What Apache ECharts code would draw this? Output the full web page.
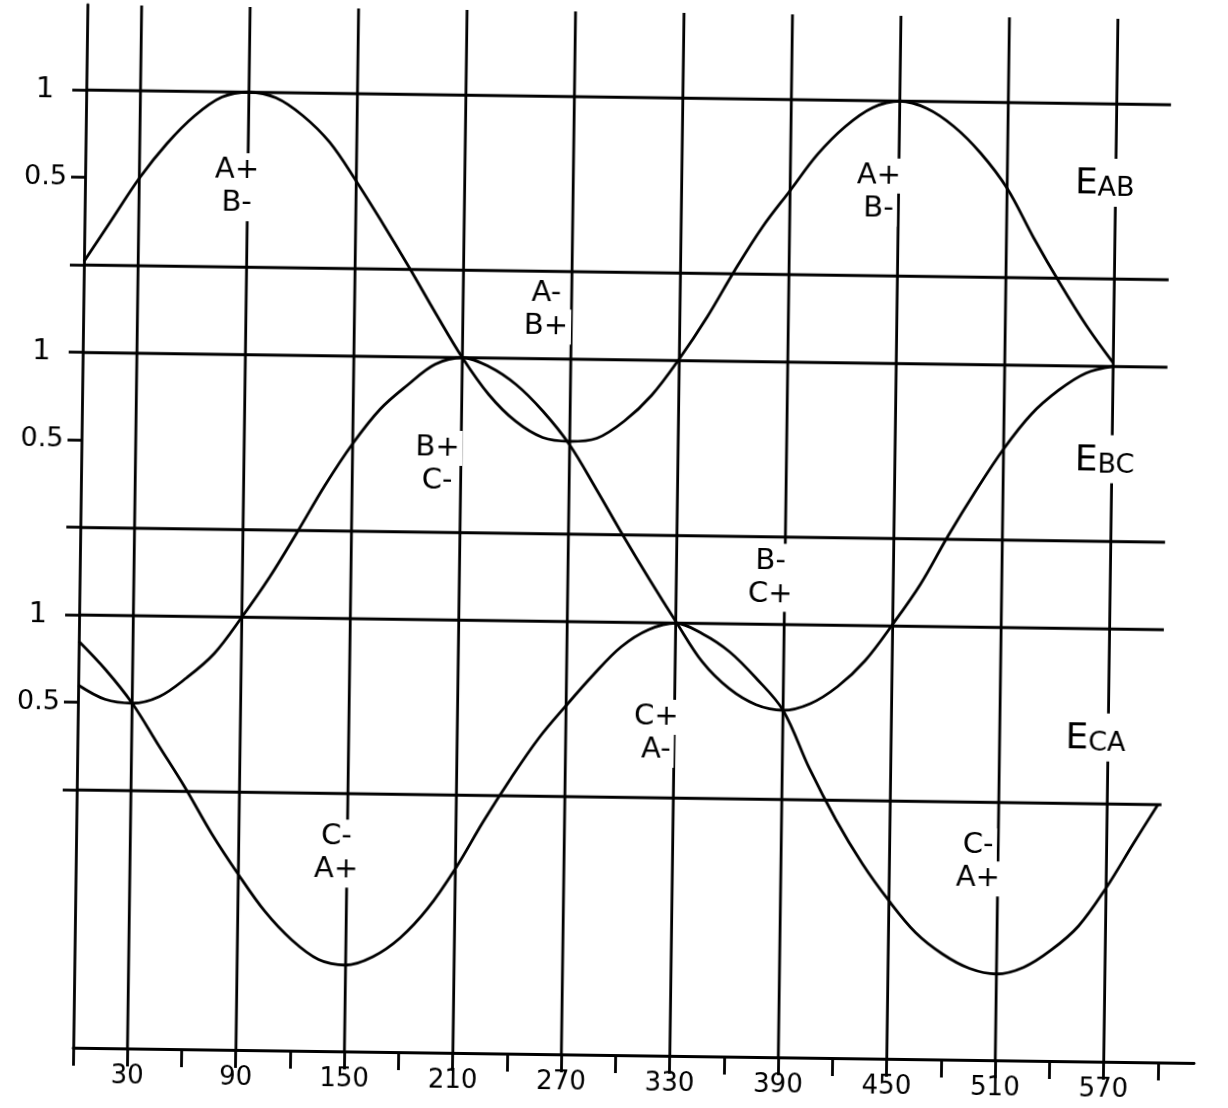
<!DOCTYPE html>
<html>
<head>
<meta charset="utf-8">
<title>EAB / EBC / ECA</title>
<script src="https://cdn.jsdelivr.net/npm/echarts@6/dist/echarts.min.js"></script>
<style>
  html, body { margin: 0; padding: 0; background: #fff; overflow: hidden; }
  /* the original sheet is scanned a little crooked */
  #chart { width: 1228px; height: 1108px; transform: rotate(0.78deg); }
</style>
</head>
<body>
<div id="chart"></div>
<script>
// electrical degrees, read every 15 deg off the sheet
const angles = [0, 15, 30, 45, 60, 75, 90, 105, 120, 135, 150, 165, 180, 195, 210, 225, 240, 255, 270,
  285, 300, 315, 330, 345, 360, 375, 390, 405, 420, 435, 450, 465, 480, 495, 510, 525, 540, 555, 570]
const ecaAngles = angles.concat([585, 598])

const eabValues = [0.02, 0.26, 0.5, 0.7, 0.86, 0.97, 1.0, 0.97, 0.87, 0.72, 0.5, 0.26, 0.01, -0.25, -0.5,
  -0.71, -0.86, -0.95, -0.97, -0.95, -0.85, -0.7, -0.49, -0.25, 0.02, 0.27, 0.48, 0.69, 0.85, 0.96, 1.0,
  0.96, 0.86, 0.71, 0.51, 0.23, -0.03, -0.27, -0.48]
const ebcValues = [-0.9, -0.98, -1.0, -0.96, -0.85, -0.71, -0.5, -0.27, -0.01, 0.26, 0.5, 0.7, 0.84, 0.96,
  1.0, 0.95, 0.85, 0.7, 0.51, 0.26, 0.0, -0.25, -0.49, -0.72, -0.87, -0.96, -0.99, -0.95, -0.85, -0.7,
  -0.49, -0.26, 0.02, 0.28, 0.52, 0.72, 0.86, 0.96, 1.0]
const ecaValues = [0.85, 0.69, 0.5, 0.26, 0.02, -0.24, -0.47, -0.68, -0.84, -0.95, -0.98, -0.93, -0.82,
  -0.65, -0.42, -0.15, 0.1, 0.33, 0.52, 0.7, 0.86, 0.96, 1.0, 0.94, 0.84, 0.69, 0.51, 0.18, -0.11, -0.36,
  -0.57, -0.75, -0.87, -0.95, -0.98, -0.94, -0.84, -0.7, -0.48, -0.22, 0.0]

// axis ticks / labels
const xTickValues = [0, 30, 60, 90, 120, 150, 180, 210, 240, 270, 300, 330, 360, 390, 420, 450, 480, 510, 540, 570, 600]
const xLabelValues = [30, 90, 150, 210, 270, 330, 390, 450, 510, 570]
const yTickValues = [1, 0.5, 0, -0.5, -1, -1.5, -2, -2.5, -3]
const yLabelValues = [1, 0.5, -0.5, -1, -2, -2.5]
const yLabelTexts = ['1', '0.5', '1', '0.5', '1', '0.5']

// three bands stacked on one axis, each with a 0 line and a 1 line
const bandOffsets = [0, -1.5, -3]
const bandLineEnd = 600

// hand written notes (two rows each)
const noteTop = ['A+', 'A-', 'A+', 'B+', 'B-', 'C+', 'C-', 'C-']
const noteBottom = ['B-', 'B+', 'B-', 'C-', 'C+', 'A-', 'A+', 'A+']
const noteAngles = [84, 256, 439, 197, 382, 320, 144, 499]
const noteValues = [0.46, -0.22, 0.48, -1.11, -1.73, -2.63, -3.34, -3.34]

const nameSubs = ['AB', 'BC', 'CA']
const nameAngles = [564, 566, 563]
const nameValues = [0.55, -1.03, -2.62]

const FONT = 'DejaVu Sans'
const INK = '#000'
const PEN = 2.8

const chart = echarts.init(document.getElementById('chart'))

function curve(xs, ys, off) {
  return {
    type: 'line',
    data: xs.map((x, i) => [x, ys[i] + off]),
    smooth: 0.35,
    showSymbol: false,
    lineStyle: { color: INK, width: PEN },
    z: 3
  }
}

function rule(points) {
  return {
    type: 'line',
    data: points,
    showSymbol: false,
    silent: true,
    lineStyle: { color: INK, width: PEN },
    z: 2
  }
}

const rulings = []
bandOffsets.forEach(off => {
  rulings.push(rule([[0, off + 1], [bandLineEnd, off + 1]]))
  rulings.push(rule([[0, off], [bandLineEnd, off]]))
})
// vertical rulings at the labelled angles, full height
xLabelValues.forEach(v => {
  rulings.push(rule([[v, -4.473], [v, 1.487]]))
})

// notes sit on their own layer; the white box hides the rulings behind them
// (scatter defaults to 0.8 opacity, so force it back to 1)
function noteRow(texts, dy) {
  return {
    type: 'scatter',
    symbolSize: 0,
    silent: true,
    zlevel: 1,
    itemStyle: { opacity: 1 },
    data: noteAngles.map((a, i) => [a, noteValues[i]]),
    label: {
      show: true,
      position: 'inside',
      offset: [0, dy],
      formatter: p => texts[p.dataIndex],
      color: INK,
      opacity: 1,
      fontFamily: FONT,
      fontSize: 29,
      backgroundColor: '#fff',
      padding: [3, 3]
    }
  }
}

const option = {
  animation: false,
  backgroundColor: '#fff',
  grid: { left: 80, right: 27, top: 12, bottom: 53, containLabel: false, outerBoundsMode: 'none' },
  xAxis: {
    type: 'value',
    min: 0,
    max: 620,
    splitLine: { show: false },
    axisLine: { onZero: false, lineStyle: { color: INK, width: PEN } },
    axisTick: { customValues: xTickValues, length: 18, lineStyle: { color: INK, width: PEN } },
    axisLabel: {
      customValues: xLabelValues,
      margin: 15,
      color: INK,
      fontFamily: FONT,
      fontSize: 26
    }
  },
  yAxis: {
    type: 'value',
    min: -4.473,
    max: 1.487,
    splitLine: { show: false },
    axisLine: { lineStyle: { color: INK, width: PEN } },
    axisTick: { customValues: yTickValues, length: 14, lineStyle: { color: INK, width: PEN } },
    axisLabel: {
      customValues: yLabelValues,
      margin: 18,
      color: INK,
      fontFamily: FONT,
      fontSize: 27,
      formatter: v => {
        const t = yLabelTexts[yLabelValues.indexOf(v)] || ''
        return t === '1' ? '{one|1}' : t
      },
      rich: {
        one: { fontFamily: FONT, fontSize: 29, color: INK, padding: [0, 14, 0, 0] }
      }
    }
  },
  series: [
    ...rulings,
    curve(angles, eabValues, bandOffsets[0]),
    curve(angles, ebcValues, bandOffsets[1]),
    curve(ecaAngles, ecaValues, bandOffsets[2]),
    noteRow(noteTop, -16),
    noteRow(noteBottom, 17),
    {
      type: 'scatter',
      symbolSize: 0,
      silent: true,
      zlevel: 1,
      itemStyle: { opacity: 1 },
      data: nameAngles.map((a, i) => [a, nameValues[i]]),
      label: {
        show: true,
        position: 'inside',
        formatter: p => '{e|E}{s|' + nameSubs[p.dataIndex] + '}',
        backgroundColor: '#fff',
        opacity: 1,
        padding: [4, 2],
        rich: {
          e: { fontFamily: FONT, fontSize: 36, color: INK, verticalAlign: 'bottom', lineHeight: 40 },
          s: { fontFamily: FONT, fontSize: 27, color: INK, verticalAlign: 'bottom', lineHeight: 40 }
        }
      }
    }
  ]
}

chart.setOption(option)
</script>
</body>
</html>
